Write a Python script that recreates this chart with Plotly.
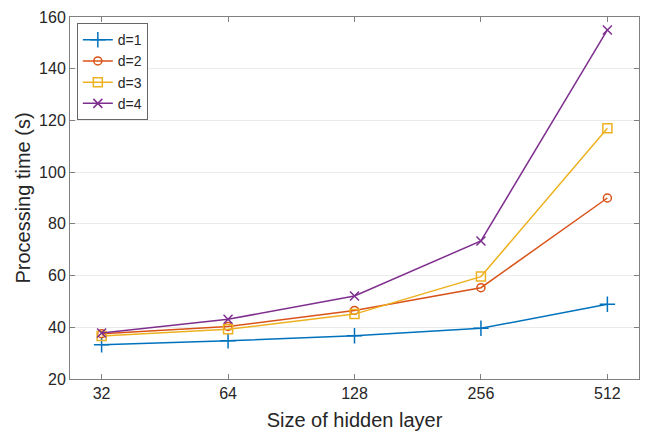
import plotly.graph_objects as go

hidden_sizes = ["32", "64", "128", "256", "512"]
d1 = [33.2, 34.8, 36.7, 39.6, 48.9]
d2 = [37.5, 40.3, 46.5, 55.3, 90.0]
d3 = [36.6, 39.2, 45.1, 59.6, 117.0]
d4 = [37.8, 43.1, 52.1, 73.4, 155.0]
series_names = ["d=1", "d=2", "d=3", "d=4"]
y_ticks = [20, 40, 60, 80, 100, 120, 140, 160]

colors = ["#0072BD", "#D95319", "#EDB120", "#7E2F8E"]
symbols = ["cross-thin-open", "circle-open", "square-open", "x-thin-open"]
sizes = [11, 8, 9, 9]

fig = go.Figure()
for name, ys, c, s, sz in zip(series_names, [d1, d2, d3, d4], colors, symbols, sizes):
    fig.add_trace(go.Scatter(
        x=list(range(len(hidden_sizes))), y=ys, name=name, mode="lines+markers",
        line=dict(color=c, width=1.5),
        marker=dict(symbol=s, size=sz, color=c, line=dict(color=c, width=1.5)),
    ))

axis_font = dict(family="Liberation Sans, Arial, sans-serif", size=16, color="#262626")
fig.update_layout(
    width=649, height=437,
    margin=dict(l=70, r=9, t=13, b=58),
    paper_bgcolor="white", plot_bgcolor="white",
    font=dict(family="Liberation Sans, Arial, sans-serif", color="#262626"),
    showlegend=True,
    legend=dict(
        x=0.012, y=0.983, xanchor="left", yanchor="top",
        bgcolor="white", bordercolor="#666666", borderwidth=1,
        font=dict(size=14, color="#262626"),
        tracegroupgap=0, itemwidth=30,
    ),
    xaxis=dict(
        range=[-0.25, 4.25],
        tickmode="array", tickvals=list(range(len(hidden_sizes))), ticktext=hidden_sizes,
        ticks="inside", ticklen=5, tickcolor="#808080",
        showline=True, linecolor="#808080", linewidth=1, mirror="ticks",
        showgrid=False, zeroline=False,
        tickfont=axis_font,
        title=dict(text="Size of hidden layer", font=dict(size=20, color="#262626"), standoff=11),
    ),
    yaxis=dict(
        range=[20, 160],
        tickmode="array", tickvals=y_ticks,
        ticks="inside", ticklen=5, tickcolor="#808080",
        showline=True, linecolor="#808080", linewidth=1, mirror="ticks",
        showgrid=True, gridcolor="#EBEBEB", gridwidth=1, zeroline=False,
        tickfont=axis_font,
        title=dict(text="Processing time (s)", font=dict(size=20, color="#262626"), standoff=3),
    ),
)

fig.write_html("out.html")
